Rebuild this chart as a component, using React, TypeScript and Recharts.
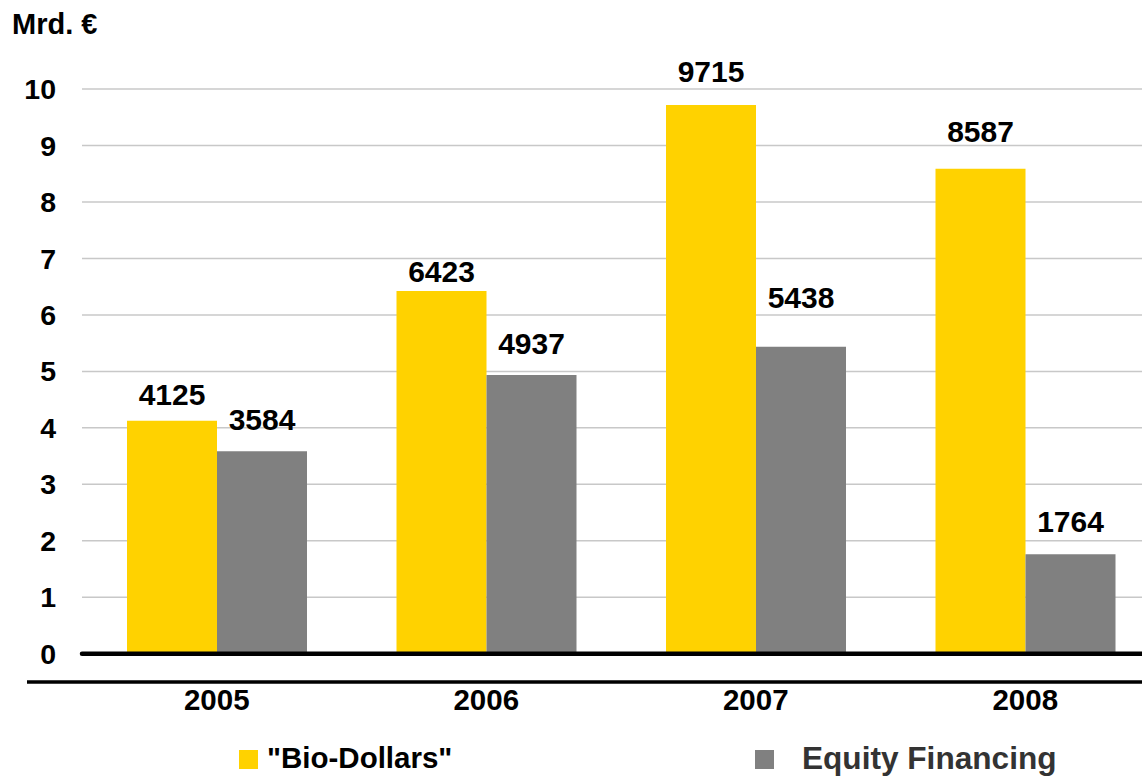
import React from 'react';
import { BarChart, Bar, XAxis, YAxis, CartesianGrid, ReferenceLine, LabelList, Legend } from 'recharts';

const years = ['2005', '2006', '2007', '2008'];
const bioDollars = [4125, 6423, 9715, 8587];
const equityFinancing = [3584, 4937, 5438, 1764];
const yTicks = [0, 1, 2, 3, 4, 5, 6, 7, 8, 9, 10];
const seriesNames = ['"Bio-Dollars"', 'Equity Financing'];
const unitLabel = 'Mrd. €';

// label gap (px) between bar top and label baseline, as placed in the reference
const bioLabelGap = [16, 9, 23, 27];
const equityLabelGap = [21, 21, 39, 22];

const YELLOW = '#FFD200';
const GRAY = '#808080';
const FONT = '"Liberation Sans", Arial, Helvetica, sans-serif';

const data = years.map((year, i) => ({
  year,
  bio: bioDollars[i] / 1000,
  equity: equityFinancing[i] / 1000,
  bioRaw: bioDollars[i],
  equityRaw: equityFinancing[i],
}));

const legendStyles = [
  { squareLeft: 239, textLeft: 267, fontSize: 29.5, color: '#000000', textTop: 3 },
  { squareLeft: 755, textLeft: 802, fontSize: 31.6, color: '#333333', textTop: 3 },
];

const makeLabel = (gaps: number[]) => (props: any) => {
  const { x, y, width, value, index } = props;
  return (
    <text
      x={Number(x) + Number(width) / 2}
      y={Number(y) - gaps[index]}
      textAnchor="middle"
      fontFamily={FONT}
      fontWeight="bold"
      fontSize={30}
      fill="#000"
    >
      {value}
    </text>
  );
};

const LegendContent = (props: any) => {
  const payload = props.payload || [];
  return (
    <div style={{ position: 'relative', width: 1142, height: 36, fontFamily: FONT, fontWeight: 'bold' }}>
      {payload.map((p: any, i: number) => {
        const s = legendStyles[i];
        return (
          <React.Fragment key={i}>
            <div
              style={{
                position: 'absolute',
                left: s.squareLeft,
                top: 10,
                width: 19,
                height: 19,
                background: p.color,
              }}
            />
            <div
              style={{
                position: 'absolute',
                left: s.textLeft,
                top: s.textTop,
                fontSize: s.fontSize,
                lineHeight: 1,
                color: s.color,
                whiteSpace: 'nowrap',
              }}
            >
              {p.value}
            </div>
          </React.Fragment>
        );
      })}
    </div>
  );
};

export default function App() {
  return (
    <div
      style={{
        position: 'absolute',
        left: 0,
        top: 0,
        width: 1142,
        height: 776,
        overflow: 'hidden',
        background: '#fff',
      }}
    >
      <BarChart
        width={1180}
        height={776}
        data={data}
        margin={{ top: 89, right: 20, bottom: 0, left: 0 }}
        barGap={0}
        barSize={90}
      >
        <CartesianGrid vertical={false} stroke="#c8c8c8" strokeWidth={1.5} />
        <YAxis
          type="number"
          domain={[-0.5, 10]}
          ticks={yTicks}
          interval={0}
          width={82}
          axisLine={false}
          tickLine={false}
          tickSize={0}
          tickMargin={26}
          tick={{ fill: '#000', fontSize: 28.5, fontWeight: 'bold', fontFamily: FONT }}
          label={{
            content: (lp: any) => (
              <text
                x={12}
                y={Number(lp.viewBox?.y ?? 89) - 55}
                fontFamily={FONT}
                fontWeight="bold"
                fontSize={29}
                fill="#000"
              >
                {unitLabel}
              </text>
            ),
          }}
        />
        <XAxis
          dataKey="year"
          height={58}
          axisLine={false}
          tickLine={false}
          tickSize={0}
          tickMargin={7}
          interval={0}
          tick={{ fill: '#000', fontSize: 29.5, fontWeight: 'bold', fontFamily: FONT }}
        />
        <Legend
          verticalAlign="bottom"
          width={1142}
          height={36}
          wrapperStyle={{ position: 'absolute', left: 0, top: 740, bottom: 'auto', width: 1142, height: 36 }}
          content={<LegendContent />}
        />
        <Bar dataKey="bio" name={seriesNames[0]} fill={YELLOW} isAnimationActive={false}>
          <LabelList dataKey="bioRaw" content={makeLabel(bioLabelGap)} />
        </Bar>
        <Bar dataKey="equity" name={seriesNames[1]} fill={GRAY} isAnimationActive={false}>
          <LabelList dataKey="equityRaw" content={makeLabel(equityLabelGap)} />
        </Bar>
        <ReferenceLine y={0} stroke="#000" strokeWidth={4.5} strokeLinecap="round" ifOverflow="visible" />
        <ReferenceLine
          y={-0.5}
          ifOverflow="visible"
          shape={(p: any) => (
            <line x1={Number(p.x1) - 55} y1={p.y1} x2={p.x2} y2={p.y2} stroke="#000" strokeWidth={3.5} />
          )}
        />
      </BarChart>
    </div>
  );
}
